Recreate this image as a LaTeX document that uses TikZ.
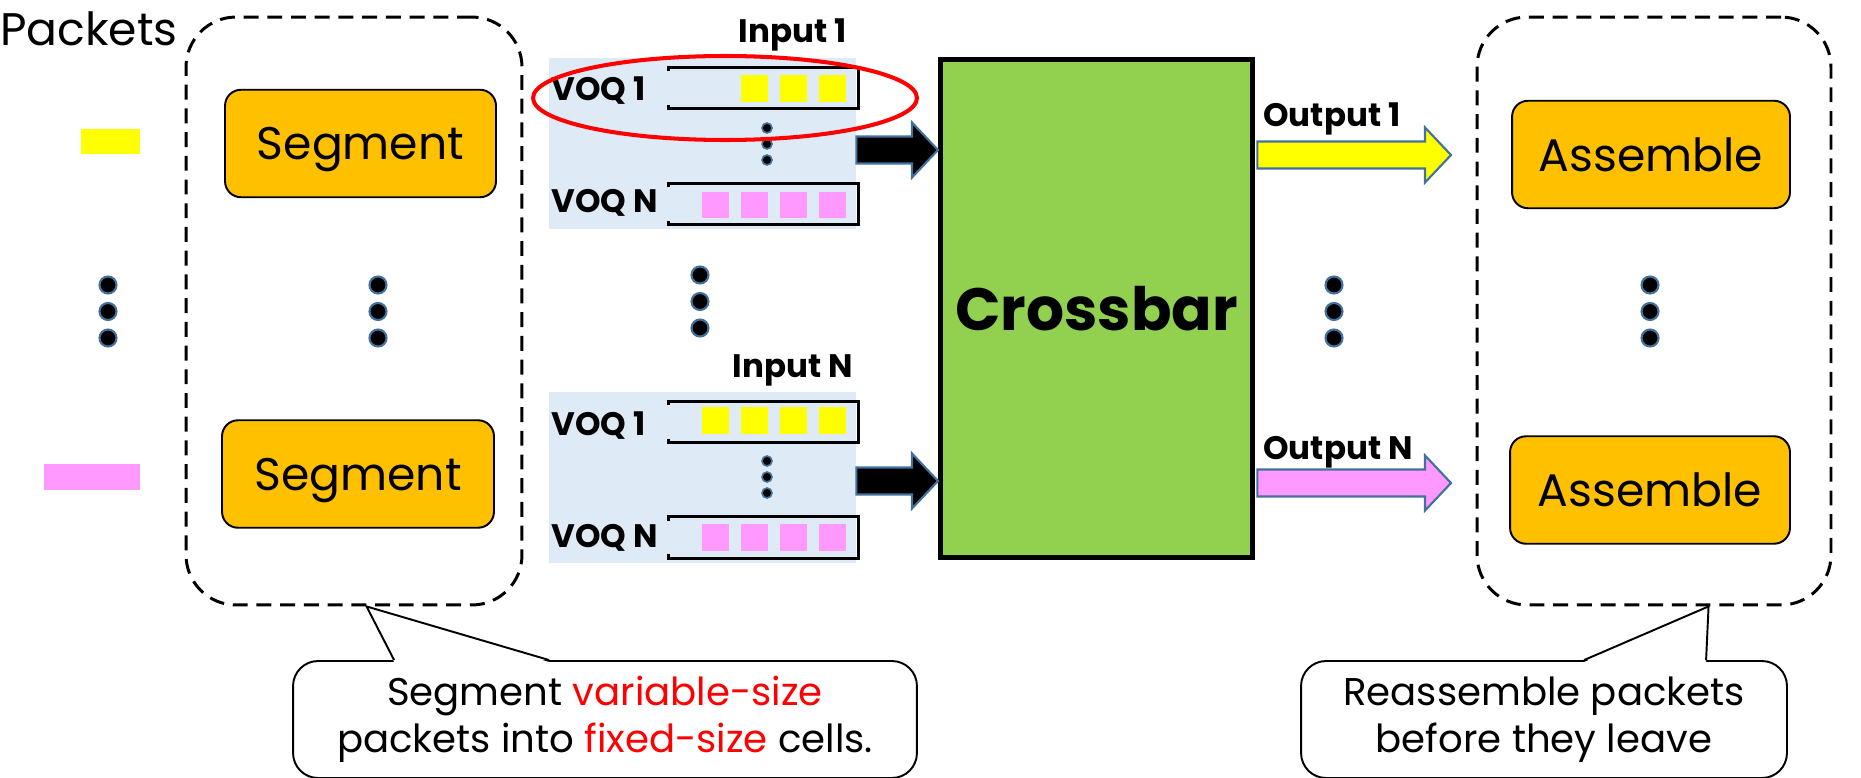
\documentclass[tikz,border=0pt]{standalone}
\usepackage{fontspec}
\setmainfont{Poppins}
\usetikzlibrary{calc}

\definecolor{segorange}{HTML}{FFC000}
\definecolor{xbargreen}{HTML}{92D050}
\definecolor{voqblue}{HTML}{DEEBF7}
\definecolor{cellyellow}{HTML}{FFFF00}
\definecolor{cellpink}{HTML}{FF99FF}
\definecolor{rimblue}{HTML}{41719C}

\newcommand{\fsz}[2]{\fontsize{#1}{#2}\selectfont}

% fat block arrow from #2 to the tip #3, at the height of the tip
\newcommand{\fatarrow}[3]{%
  \draw[#1] let \p1=(#2), \p2=(#3) in
    (\x1,\y2+0.27cm) -- (\x2-0.52cm,\y2+0.27cm) -- (\x2-0.52cm,\y2+0.55cm)
    -- (\x2,\y2) -- (\x2-0.52cm,\y2-0.55cm) -- (\x2-0.52cm,\y2-0.27cm)
    -- (\x1,\y2-0.27cm) -- cycle;}

\begin{document}
\begin{tikzpicture}[x=0.02cm,y=-0.02cm,
  every node/.style={inner sep=0pt},
  grpbox/.style={draw,line width=1.7pt,dash pattern=on 8.5pt off 5pt,rounded corners=1cm,minimum height=11.76cm},
  opbox/.style={draw,fill=segorange,line width=1.1pt,rounded corners=0.32cm,minimum height=2.15cm,text depth=0pt,font=\fsz{26}{30}},
  inblock/.style={fill=voqblue,minimum width=6.14cm,minimum height=3.42cm},
  queue/.style={minimum width=3.78cm,minimum height=0.82cm},
  qline/.style={line width=1.7pt},
  cell/.style={minimum width=0.54cm,minimum height=0.54cm},
  lbl/.style={font=\bfseries\fsz{18.5}{22}},
  dot/.style={fill=black,draw=rimblue,line width=1.2pt},
  callbox/.style={draw,fill=white,line width=1.1pt,rounded corners=0.5cm,align=center,minimum height=2.34cm,font=\fsz{22}{27}},
  blockarr/.style={draw=rimblue,line width=1.2pt,line join=miter}]

\useasboundingbox (0,0) rectangle (1861,777);

% incoming packets
\node[anchor=base west,font=\fsz{26}{30}] (pkts) at (0,46) {Packets};
\node[fill=cellyellow,minimum width=1.18cm,minimum height=0.5cm] (pk1) at (110.5,141.5) {};
\node[fill=cellpink,minimum width=1.92cm,minimum height=0.52cm] (pkN) at (92,477) {};

% segmentation stage
\node[grpbox,minimum width=6.72cm] (seg) at (354,311) {};
\node[opbox,minimum width=5.42cm] (seg1) at (360.5,143.5) {Segment};
\node[opbox,minimum width=5.44cm] (segN) at (358,474) {Segment};

% reassembly stage
\node[grpbox,minimum width=7.08cm] (asm) at (1654,311) {};
\node[opbox,minimum width=5.56cm] (asm1) at (1651,154.5) {Assemble};
\node[opbox,minimum width=5.6cm] (asmN) at (1650,490) {Assemble};

% vertical ellipses
\foreach \x in {108,378,1334,1650}
  \foreach \y in {285,311.5,338}
    \filldraw[dot] (\x,\y) circle (0.17cm);
\foreach \y in {275,301.5,328}
  \filldraw[dot] (700,\y) circle (0.17cm);

% input ports with their VOQs
\node[inblock] (in1) at (702.5,143.5) {};
\node[inblock] (inN) at (702.5,477.5) {};
\node[lbl,anchor=base east] (lin1) at (847,43) {Input 1};
\node[lbl,anchor=base east] (linN) at (853,377) {Input N};

\node[queue] (q11) at (763.5,88) {};
\node[queue] (q1N) at (763.5,204) {};
\node[queue] (qN1) at (763.5,422) {};
\node[queue] (qNN) at (763.5,537.5) {};
\foreach \q in {q11,q1N,qN1,qNN}
  \draw[qline] ([yshift=-0.08cm]\q.north west) -- (\q.north west) -- (\q.north east)
    -- (\q.south east) -- (\q.south west) -- ([yshift=0.08cm]\q.south west);

\node[lbl,anchor=base west] (v11) at (551,100) {VOQ 1};
\node[lbl,anchor=base west] (v1N) at (551,212) {VOQ N};
\node[lbl,anchor=base west] (vN1) at (551,435) {VOQ 1};
\node[lbl,anchor=base west] (vNN) at (551,547) {VOQ N};

\foreach \x [count=\i] in {754,793,832}
  \node[cell,fill=cellyellow] (c11\i) at (\x,88.5) {};
\foreach \x [count=\i] in {715,754,793,832}{
  \node[cell,fill=cellpink] (c1N\i) at (\x,205) {};
  \node[cell,fill=cellyellow] (cN1\i) at (\x,420.5) {};
  \node[cell,fill=cellpink] (cNN\i) at (\x,537.5) {};
}
\foreach \y in {128,144,160,461,477,493}
  \filldraw[dot,line width=0.9pt] (767,\y) circle (0.1cm);

\draw[red,line width=2.3pt] (725,98) ellipse [x radius=3.84cm,y radius=0.84cm];

% switch fabric
\node[draw,fill=xbargreen,line width=2.8pt,minimum width=6.24cm,minimum height=9.96cm,
  font=\bfseries\fsz{34}{40}] (xbar) at (1096.5,308.5) {\raisebox{-0.1cm}{Crossbar}};

\coordinate (t1) at (938,150);
\coordinate (tN) at (938,481);
\coordinate (o1) at (1451,155);
\coordinate (oN) at (1451,483);
\fatarrow{blockarr,fill=black}{in1.east}{t1}
\fatarrow{blockarr,fill=black}{inN.east}{tN}
\fatarrow{blockarr,fill=cellyellow}{[xshift=1.4pt]xbar.east}{o1}
\fatarrow{blockarr,fill=cellpink}{[xshift=1.4pt]xbar.east}{oN}

\node[lbl,anchor=base west] (lo1) at (1263,126) {Output 1};
\node[lbl,anchor=base west] (loN) at (1263,459) {Output N};

% callouts
\node[callbox,minimum width=12.48cm] (csg) at (605,719.5)
  {Segment \textcolor{red}{variable-size}\\packets into \textcolor{red}{fixed-size} cells.};
\fill[white] ($(csg.north west)+(102,2)$) -- ($(seg.south west)+(182,0)$) -- ($(csg.north west)+(257,2)$) -- cycle;
\draw[line width=1.1pt] ($(csg.north west)+(102,0)$) -- ($(seg.south west)+(182,0)$) -- ($(csg.north west)+(257,0)$);

\node[callbox,minimum width=9.72cm] (cas) at (1544,719.5)
  {Reassemble packets\\before they leave};
\fill[white] ($(cas.north west)+(284,2)$) -- ($(asm.south west)+(233,0)$) -- ($(cas.north west)+(406,2)$) -- cycle;
\draw[line width=1.1pt] ($(cas.north west)+(284,0)$) -- ($(asm.south west)+(233,0)$) -- ($(cas.north west)+(406,0)$);

\end{tikzpicture}
\end{document}
